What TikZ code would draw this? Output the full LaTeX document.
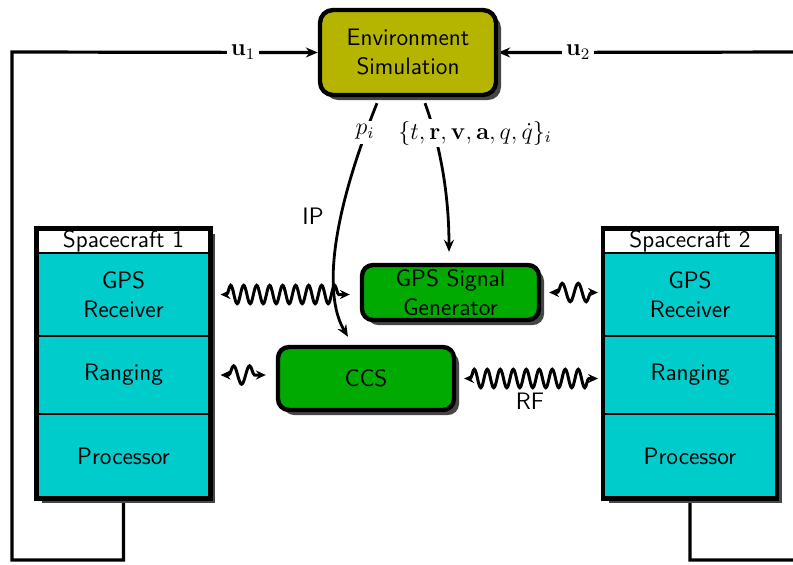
\documentclass[tikz,border=0pt]{standalone}
\usetikzlibrary{arrows.meta,shadows,decorations.pathmorphing,calc,backgrounds}
\definecolor{envcol}{RGB}{181,181,0}
\definecolor{grncol}{RGB}{0,170,0}
\definecolor{cyancol}{RGB}{0,204,204}
\definecolor{shcol}{RGB}{70,70,70}
\begin{document}
\begin{tikzpicture}[x=0.5pt,y=-0.5pt,
  font=\sffamily\fontsize{11.9}{14.5}\selectfont,
  myshadow/.style={drop shadow={shadow xshift=2.5pt,shadow yshift=-2.5pt,fill=shcol,opacity=1}},
  rbox/.style={draw,line width=2.2pt,rounded corners=5.5pt,align=center,inner sep=0pt,myshadow},
  part/.style={draw,line width=0.6pt,fill=cyancol,minimum width=86.5pt,inner sep=0pt,align=center},
  scouter/.style={fill=white,myshadow,minimum width=86.5pt,minimum height=134.5pt,inner sep=0pt},
  conn/.style={line width=1.6pt},
  tip/.style={-{Stealth[length=6pt,width=5pt,inset=2pt]}},
  wave/.style={line width=1.5pt,{Stealth[length=5pt,width=4.6pt,inset=1.8pt]}-{Stealth[length=5pt,width=4.6pt,inset=1.8pt]},decorate,decoration={snake,amplitude=4.6pt,segment length=6.5pt,pre length=3pt,post length=3pt}},
  shortwave/.style={wave,decoration={snake,amplitude=4.6pt,segment length=8pt,pre length=4pt,post length=3pt}},
  lbl/.style={fill=white,inner sep=2pt},
]
\useasboundingbox (0,0) rectangle (793,564);
\clip (0,0) rectangle (793,564);

% main blocks
\node[rbox,fill=envcol,minimum width=88pt,minimum height=42.5pt,rounded corners=6.5pt] (env) at (408,52.5) {Environment\\Simulation};
\node[rbox,fill=grncol,minimum width=88.5pt,minimum height=27.5pt] (gsg) at (450.5,292.5) {GPS Signal\\Generator};
\node[rbox,fill=grncol,minimum width=88pt,minimum height=31.5pt] (ccs) at (366,378.5) {CCS};

% spacecraft 1
\node[scouter] (sc1) at (123.5,363.5) {};
\node[part,fill=white,minimum height=12pt] (sc1t) at (123.5,241) {Spacecraft 1};
\node[part,minimum height=41.5pt] (sc1g) at (123.5,294.5) {GPS\\Receiver};
\node[part,minimum height=39pt] (sc1r) at (123.5,375) {Ranging};
\node[part,minimum height=42pt] (sc1p) at (123.5,456) {Processor};
\draw[line width=2.2pt] (sc1.south west) rectangle (sc1.north east);

% spacecraft 2
\node[scouter] (sc2) at (690,363.5) {};
\node[part,fill=white,minimum height=12pt] (sc2t) at (690,241) {Spacecraft 2};
\node[part,minimum height=41.5pt] (sc2g) at (690,294.5) {GPS\\Receiver};
\node[part,minimum height=39pt] (sc2r) at (690,375) {Ranging};
\node[part,minimum height=42pt] (sc2p) at (690,456) {Processor};
\draw[line width=2.2pt] (sc2.south west) rectangle (sc2.north east);

% loop coordinates
\coordinate (lb) at (12,560);
\coordinate (lt) at (12,52);
\coordinate (rb) at (810,560);
\coordinate (rt) at (810,52);

\begin{scope}[on background layer]
  \clip (0,0) rectangle (793,564);
  \draw[conn,tip] (sc1p.south) |- (lb) -- (lt) -- (env.west);
  \draw[conn,tip] (sc2p.south) |- (rb) -- (rt) -- (env.east);
  \draw[line width=1.4pt,tip] ([xshift=-15.5pt,yshift=-3pt]env.south) .. controls (326,230) and (326,300) .. ([xshift=-9pt,yshift=4pt]ccs.north);
  \draw[line width=1.4pt,tip] ([xshift=8.5pt,yshift=-3pt]env.south) .. controls (442,150) and (449,200) .. ([xshift=-0.75pt,yshift=5.5pt]gsg.north);
\end{scope}

% labels
\node[lbl] (u1) at (243,52) {$\mathbf{u}_1$};
\node[lbl] (u2) at (578,52) {$\mathbf{u}_2$};
\node[lbl] (pi) at (365,132) {$p_i$};
\node[lbl,inner sep=1pt] (st) at (475,133) {$\{t,\mathbf{r},\mathbf{v},\mathbf{a},q,\dot{q}\}_i$};
\node (ip) at (313,216) {IP};
\node (rf) at (530,401) {RF};

% wireless links
\draw[wave] ($(sc1g.east)+(5pt,0)$) -- ($(gsg.west |- sc1g.east)+(-5pt,0)$);
\draw[shortwave] ($(gsg.east)+(4pt,0)$) -- ($(sc2g.west |- gsg.east)+(-2.5pt,0)$);
\draw[shortwave] ($(sc1r.east)+(5pt,0)$) -- ($(ccs.west |- sc1r.east)+(-5pt,0)$);
\draw[wave] ($(ccs.east)+(4pt,0)$) -- ($(sc2r.west |- ccs.east)+(-2.5pt,0)$);
\end{tikzpicture}
\end{document}
